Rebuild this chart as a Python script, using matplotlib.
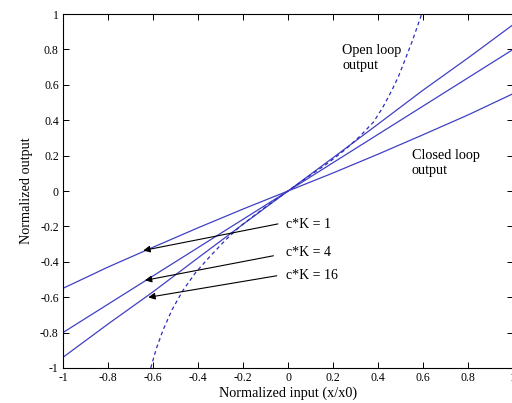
import matplotlib
matplotlib.use("Agg")
import matplotlib.pyplot as plt

# Closed-loop curves
x_closed = [-1.0, -0.8, -0.6, -0.4, -0.2, 0.0, 0.2, 0.4, 0.6, 0.8, 1.0]
y_ck1 = [-0.55, -0.43, -0.318, -0.208, -0.102, 0.0, 0.102, 0.208, 0.318, 0.43, 0.55]
y_ck4 = [-0.80, -0.64, -0.48, -0.32, -0.16, 0.0, 0.16, 0.32, 0.48, 0.64, 0.80]
y_ck16 = [-0.94, -0.752, -0.57, -0.378, -0.188, 0.0, 0.188, 0.378, 0.57, 0.752, 0.94]

# Open-loop curve
x_open = [-0.61, -0.585, -0.555, -0.515, -0.466, -0.41, -0.347, -0.28, -0.213, -0.1, 0.0,
          0.1, 0.18, 0.253, 0.32, 0.38, 0.42, 0.46, 0.49, 0.515, 0.55, 0.575, 0.594]
y_open = [-1.0, -0.89, -0.785, -0.67, -0.56, -0.46, -0.37, -0.28, -0.2, -0.09, 0.0,
          0.09, 0.16, 0.233, 0.31, 0.39, 0.47, 0.565, 0.645, 0.725, 0.84, 0.93, 1.0]

labels = ["c*K = 1", "c*K = 4", "c*K = 16"]
label_pos = [(-0.01, -0.187), (-0.01, -0.35), (-0.01, -0.478)]
arrow_tail = [(-0.045, -0.186), (-0.065, -0.366), (-0.05, -0.479)]
arrow_head = [(-0.643, -0.336), (-0.636, -0.505), (-0.621, -0.601)]

xticks = [-1, -0.8, -0.6, -0.4, -0.2, 0, 0.2, 0.4, 0.6, 0.8, 1]
yticks = [-1, -0.8, -0.6, -0.4, -0.2, 0, 0.2, 0.4, 0.6, 0.8, 1]

plt.rcParams['font.family'] = ['Liberation Serif', 'DejaVu Serif']
plt.rcParams['font.size'] = 8.5

fig = plt.figure(figsize=(5.12, 4.03), dpi=100)
ax = fig.add_axes([0.123, 0.087, 0.879, 0.878])

col = '#4040c4'
ax.plot(x_closed, y_ck1, color=col, lw=0.9)
ax.plot(x_closed, y_ck4, color=col, lw=0.9)
ax.plot(x_closed, y_ck16, color=col, lw=0.9)
ax.plot(x_open, y_open, color='#2c2cc0', lw=0.9, ls=(0, (3, 2.5)))

for lab, lp, t, h in zip(labels, label_pos, arrow_tail, arrow_head):
    ax.annotate("", xy=h, xytext=t,
                arrowprops=dict(arrowstyle='-|>', color='black', lw=0.8,
                                mutation_scale=10, shrinkA=0, shrinkB=0))
    ax.text(lp[0], lp[1], lab, ha='left', va='center', fontsize=10)

ax.text(0.24, 0.83, "Open loop\noutput", ha='left', va='top', fontsize=10.3, linespacing=1.2)
ax.text(0.55, 0.235, "Closed loop\noutput", ha='left', va='top', fontsize=10.3, linespacing=1.2)

ax.set_xlim(-1, 1)
ax.set_ylim(-1, 1)
ax.set_xticks(xticks)
ax.set_yticks(yticks)
ax.set_xticklabels([f"{v:g}" for v in xticks])
ax.set_yticklabels([f"{v:g}" for v in yticks])
ax.tick_params(direction='in', top=True, right=True, length=4, width=0.7, pad=3)
for s in ax.spines.values():
    s.set_linewidth(0.8)
ax.set_xlabel("Normalized input (x/x0)", fontsize=10.3, labelpad=2)
ax.set_ylabel("Normalized output", fontsize=10.3, labelpad=5)

fig.savefig("out.png", dpi=100)
